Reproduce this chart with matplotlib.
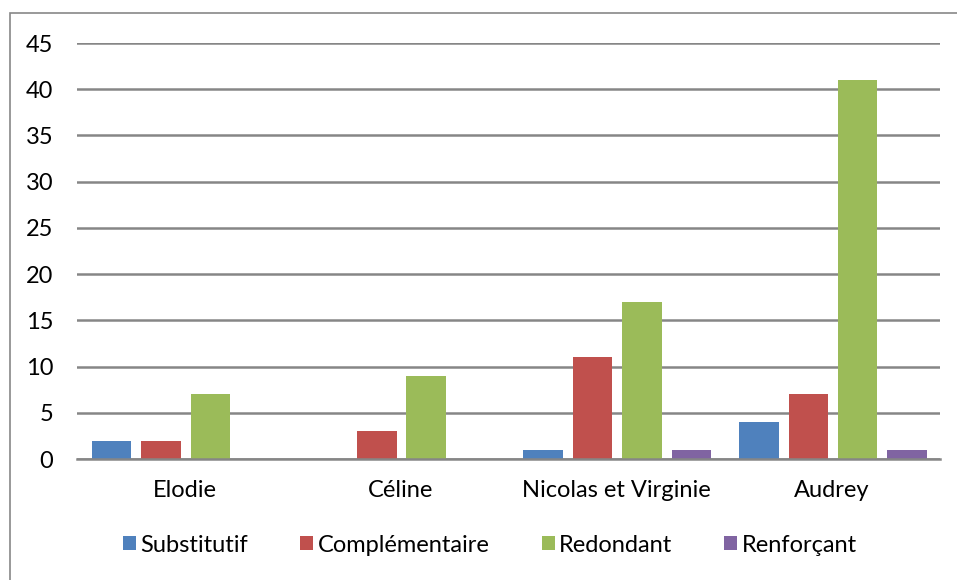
import numpy as np
import matplotlib.pyplot as plt
from matplotlib.patches import Rectangle

plt.rcParams['font.family'] = ['Lato', 'DejaVu Sans']

categories = ['Elodie', 'Céline', 'Nicolas et Virginie', 'Audrey']
series_names = ['Substitutif', 'Complémentaire', 'Redondant', 'Renforçant']
substitutif = [2, 0, 1, 4]
complementaire = [2, 3, 11, 7]
redondant = [7, 9, 17, 41]
renforcant = [0, 0, 1, 1]
y_ticks = [0, 5, 10, 15, 20, 25, 30, 35, 40, 45]

colors = ['#4F81BD', '#C0504D', '#9BBB59', '#8064A2']
series = [substitutif, complementaire, redondant, renforcant]

W, H = 957, 580
fig = plt.figure(figsize=(W / 100, H / 100), dpi=100)

# cadre extérieur (style Excel)
fig.patches.append(Rectangle((10 / W, -0.1), 1.1, (H - 13) / H + 0.1,
                             transform=fig.transFigure, fill=False,
                             edgecolor='#878787', linewidth=1.2))

ax = fig.add_axes([77 / W, (H - 459) / H, (940 - 77) / W, (459 - 43) / H])

x = np.arange(len(categories))
pitch = 0.229
width = 0.183
for i, (vals, col, name) in enumerate(zip(series, colors, series_names)):
    ax.bar(x + (i - 1.5) * pitch + 0.004, vals, width, color=col, label=name, zorder=3)

ax.set_xlim(-0.5, len(categories) - 0.5)
ax.set_ylim(0, 45)
ax.set_yticks(y_ticks)
ax.set_xticks(x)
ax.set_xticklabels(categories)
ax.tick_params(axis='both', length=0, labelsize=17, colors='black')
ax.tick_params(axis='y', pad=17)
ax.tick_params(axis='x', pad=15)
ax.yaxis.grid(True, color='#868686', linewidth=1.8, zorder=0)
for s in ['top', 'right', 'left']:
    ax.spines[s].set_visible(False)
ax.spines['bottom'].set_color('#868686')
ax.spines['bottom'].set_linewidth(1.8)
ax.spines['bottom'].set_zorder(4)

leg = fig.legend(loc='center', bbox_to_anchor=(0.512, (H - 545) / H), ncol=4,
                 frameon=False, fontsize=17, handlelength=0.55, handleheight=0.55,
                 handletextpad=0.2, columnspacing=2.2)

fig.savefig('out.png', dpi=100)
